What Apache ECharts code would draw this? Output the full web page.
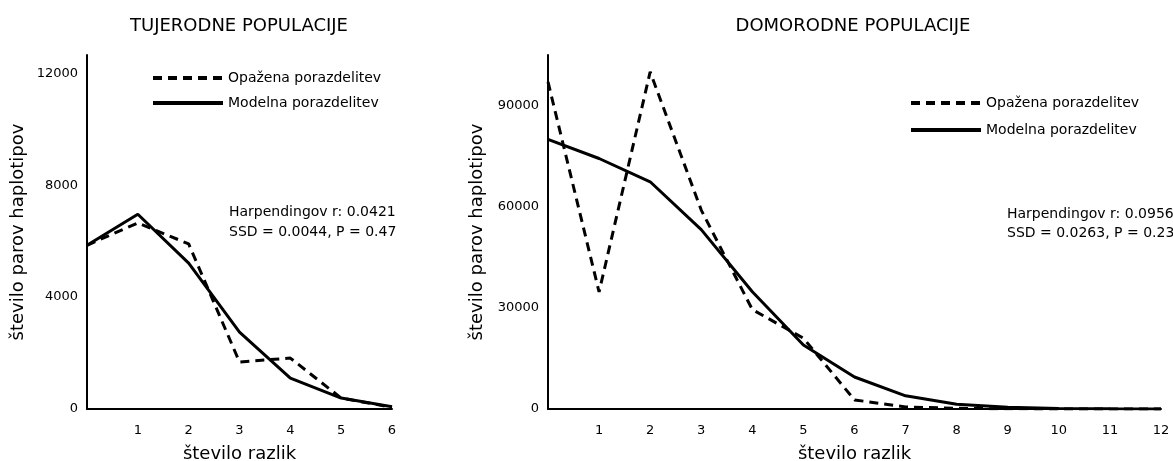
<!DOCTYPE html>
<html>
<head>
<meta charset="utf-8">
<script src="https://cdn.jsdelivr.net/npm/echarts@6/dist/echarts.min.js"></script>
<style>
  html, body { margin: 0; padding: 0; background: #fff; }
  #chart { width: 1173px; height: 461px; }
</style>
</head>
<body>
<div id="chart"></div>
<script>
// število razlik (x)
var leftX = [0, 1, 2, 3, 4, 5, 6];
var leftObserved = [5850, 6650, 5900, 1680, 1820, 390, 60];
var leftModel = [5850, 6960, 5210, 2750, 1100, 390, 80];

var rightX = [0, 1, 2, 3, 4, 5, 6, 7, 8, 9, 10, 11, 12];
var rightObserved = [97000, 34700, 100000, 59000, 29500, 21000, 2700, 600, 200, 50, 20, 10, 0];
var rightModel = [80000, 74300, 67400, 53200, 34800, 19000, 9500, 3900, 1400, 500, 150, 50, 20];

var titles = ['TUJERODNE POPULACIJE', 'DOMORODNE POPULACIJE'];
var legendNames = ['Opažena porazdelitev', 'Modelna porazdelitev'];
var notes = [
    ['Harpendingov r: 0.0421', 'SSD = 0.0044, P = 0.47'],
    ['Harpendingov r: 0.0956', 'SSD = 0.0263, P = 0.23']
];

function pairs(xs, ys) {
    return xs.map(function (x, i) { return [x, ys[i]]; });
}

var FONT = 'DejaVu Sans';

function xAxisFor(idx, max) {
    return {
        gridIndex: idx,
        type: 'value',
        min: 0,
        max: max,
        interval: 1,
        name: 'število razlik',
        nameLocation: 'middle',
        nameGap: 36,
        nameTextStyle: { fontFamily: FONT, fontSize: 18, color: '#000' },
        axisLine: { lineStyle: { color: '#000', width: 2 } },
        axisTick: { show: false },
        splitLine: { show: false },
        axisLabel: {
            fontFamily: FONT, fontSize: 13, color: '#000', margin: 15,
            formatter: function (v) { return v === 0 ? '' : String(v); }
        }
    };
}

function yAxisFor(idx, max, interval, gap) {
    return {
        gridIndex: idx,
        type: 'value',
        min: 0,
        max: max,
        interval: interval,
        name: 'število parov haplotipov',
        nameLocation: 'middle',
        nameGap: gap,
        nameTextStyle: { fontFamily: FONT, fontSize: 18, color: '#000' },
        axisLine: { show: true, lineStyle: { color: '#000', width: 2 } },
        axisTick: { show: false },
        splitLine: { show: false },
        axisLabel: {
            fontFamily: FONT, fontSize: 13, color: '#000', margin: 9,
            showMaxLabel: false,
            formatter: function (v) { return String(v); }
        }
    };
}

function lineSeries(name, idx, data, dashed) {
    return {
        name: name,
        type: 'line',
        xAxisIndex: idx,
        yAxisIndex: idx,
        data: data,
        symbol: 'none',
        silent: true,
        lineStyle: {
            color: '#000',
            width: 3,
            type: dashed ? [9, 6] : 'solid'
        },
        itemStyle: { color: '#000' },
        z: dashed ? 3 : 2
    };
}

function legendFor(seriesIdx, left, top, width, gap) {
    return {
        seriesIndex: seriesIdx,
        data: legendNames,
        orient: 'vertical',
        left: left, top: top,
        itemWidth: width, itemHeight: 14, itemGap: gap,
        textStyle: { fontFamily: FONT, fontSize: 14, color: '#000' },
        lineStyle: { width: 4 },
        itemStyle: { opacity: 0 },
        selectedMode: false
    };
}

var chart = echarts.init(document.getElementById('chart'));
chart.setOption({
    animation: false,
    backgroundColor: '#fff',
    title: [
        { text: titles[0], left: 234, top: 12, textAlign: 'center',
          textStyle: { fontFamily: FONT, fontSize: 18, fontWeight: 'normal', color: '#000' } },
        { text: titles[1], left: 848, top: 12, textAlign: 'center',
          textStyle: { fontFamily: FONT, fontSize: 18, fontWeight: 'normal', color: '#000' } }
    ],
    grid: [
        { left: 87, right: 781, top: 55, bottom: 52, containLabel: false, outerBoundsMode: 'none' },
        { left: 548, right: 12, top: 55, bottom: 52, containLabel: false, outerBoundsMode: 'none' }
    ],
    legend: [
        legendFor([0, 1], 146, 66, 70, 11),
        legendFor([2, 3], 904, 91, 70, 13)
    ],
    xAxis: [xAxisFor(0, 6), xAxisFor(1, 12)],
    yAxis: [yAxisFor(0, 12650, 4000, 60), yAxisFor(1, 105000, 30000, 58)],
    graphic: [
        { type: 'text', left: 229, top: 202,
          style: { text: notes[0].join('\n'), font: '14px "DejaVu Sans"', lineHeight: 20, fill: '#000' } },
        { type: 'text', left: 1007, top: 205,
          style: { text: notes[1].join('\n'), font: '14px "DejaVu Sans"', lineHeight: 19, fill: '#000' } }
    ],
    series: [
        lineSeries(legendNames[0], 0, pairs(leftX, leftObserved), true),
        lineSeries(legendNames[1], 0, pairs(leftX, leftModel), false),
        lineSeries(legendNames[0], 1, pairs(rightX, rightObserved), true),
        lineSeries(legendNames[1], 1, pairs(rightX, rightModel), false)
    ]
});
</script>
</body>
</html>
